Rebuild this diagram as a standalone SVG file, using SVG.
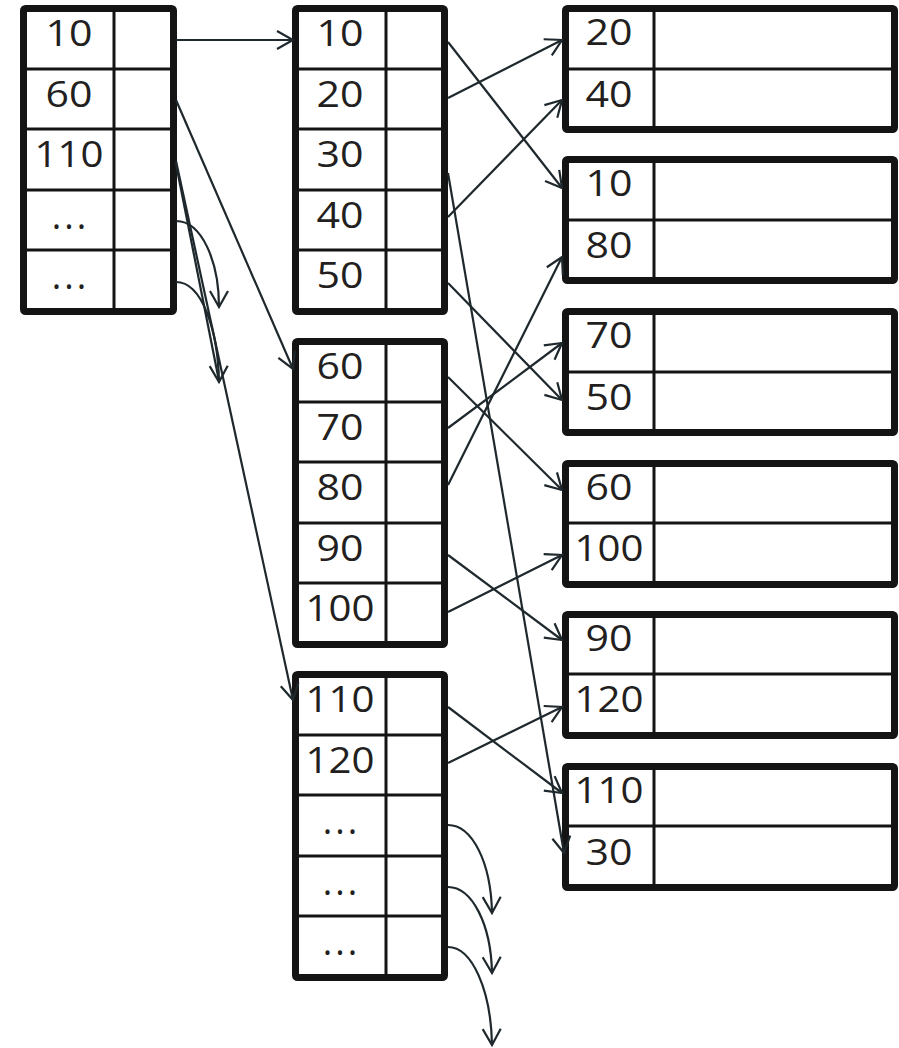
<svg xmlns="http://www.w3.org/2000/svg" width="899" height="1048" viewBox="0 0 899 1048">
<defs>
<style>
.box{fill:#fff;stroke:#141414;stroke-width:7;stroke-linejoin:round}
.in{stroke:#141414;stroke-width:3;fill:none}
.t{font-family:"Open Sans","DejaVu Sans",sans-serif;font-size:36px;fill:#231f20;text-anchor:middle}
.d{letter-spacing:3px}
.c{fill:none;stroke:#1e282d;stroke-width:2.2}
</style>
<marker id="a" markerUnits="userSpaceOnUse" markerWidth="20" markerHeight="20" refX="16" refY="10" orient="auto" overflow="visible">
<path d="M0,1 L16,10 L0,19" fill="none" stroke="#1e282d" stroke-width="2.2"/>
</marker>
</defs>
<rect width="899" height="1048" fill="#fff"/>

<g id="root">
<rect class="box" x="23.5" y="8.5" width="150" height="303" rx="2"/>
<path class="in" d="M114,12V308 M27,69H170 M27,129H170 M27,190H170 M27,250H170"/>
<text class="t" x="69" y="46" textLength="47" lengthAdjust="spacingAndGlyphs">10</text>
<text class="t" x="69" y="107" textLength="47" lengthAdjust="spacingAndGlyphs">60</text>
<text class="t" x="69" y="167" textLength="69" lengthAdjust="spacingAndGlyphs">110</text>
<text class="t d" x="70.5" y="229">...</text>
<text class="t d" x="70.5" y="289">...</text>
</g>

<g id="mid1">
<rect class="box" x="295.5" y="8.5" width="149" height="303" rx="2"/>
<path class="in" d="M386,12V308 M299,69H441 M299,129H441 M299,190H441 M299,250H441"/>
<text class="t" x="340" y="46" textLength="47" lengthAdjust="spacingAndGlyphs">10</text>
<text class="t" x="340" y="107" textLength="47" lengthAdjust="spacingAndGlyphs">20</text>
<text class="t" x="340" y="167" textLength="47" lengthAdjust="spacingAndGlyphs">30</text>
<text class="t" x="340" y="228" textLength="47" lengthAdjust="spacingAndGlyphs">40</text>
<text class="t" x="340" y="288" textLength="47" lengthAdjust="spacingAndGlyphs">50</text>
</g>

<g id="mid2">
<rect class="box" x="295.5" y="341.5" width="149" height="303" rx="2"/>
<path class="in" d="M386,345V641 M299,402H441 M299,462H441 M299,523H441 M299,583H441"/>
<text class="t" x="340" y="379" textLength="47" lengthAdjust="spacingAndGlyphs">60</text>
<text class="t" x="340" y="440" textLength="47" lengthAdjust="spacingAndGlyphs">70</text>
<text class="t" x="340" y="500" textLength="47" lengthAdjust="spacingAndGlyphs">80</text>
<text class="t" x="340" y="561" textLength="47" lengthAdjust="spacingAndGlyphs">90</text>
<text class="t" x="340" y="621" textLength="69" lengthAdjust="spacingAndGlyphs">100</text>
</g>

<g id="mid3">
<rect class="box" x="295.5" y="674.5" width="149" height="303" rx="2"/>
<path class="in" d="M386,678V974 M299,735H441 M299,795H441 M299,856H441 M299,916H441"/>
<text class="t" x="340" y="712" textLength="69" lengthAdjust="spacingAndGlyphs">110</text>
<text class="t" x="340" y="773" textLength="69" lengthAdjust="spacingAndGlyphs">120</text>
<text class="t d" x="341.5" y="834">...</text>
<text class="t d" x="341.5" y="895">...</text>
<text class="t d" x="341.5" y="955">...</text>
</g>

<g id="leaf1">
<rect class="box" x="565.5" y="8.5" width="329" height="121" rx="2"/>
<path class="in" d="M654,12V126 M569,69H891"/>
<text class="t" x="609" y="45" textLength="47" lengthAdjust="spacingAndGlyphs">20</text>
<text class="t" x="609" y="107" textLength="47" lengthAdjust="spacingAndGlyphs">40</text>
</g>
<g id="leaf2">
<rect class="box" x="565.5" y="159.5" width="329" height="121" rx="2"/>
<path class="in" d="M654,163V277 M569,220H891"/>
<text class="t" x="609" y="196" textLength="47" lengthAdjust="spacingAndGlyphs">10</text>
<text class="t" x="609" y="258" textLength="47" lengthAdjust="spacingAndGlyphs">80</text>
</g>
<g id="leaf3">
<rect class="box" x="565.5" y="311.5" width="329" height="121" rx="2"/>
<path class="in" d="M654,315V429 M569,372H891"/>
<text class="t" x="609" y="348" textLength="47" lengthAdjust="spacingAndGlyphs">70</text>
<text class="t" x="609" y="410" textLength="47" lengthAdjust="spacingAndGlyphs">50</text>
</g>
<g id="leaf4">
<rect class="box" x="565.5" y="463.5" width="329" height="121" rx="2"/>
<path class="in" d="M654,467V581 M569,523H891"/>
<text class="t" x="609" y="500" textLength="47" lengthAdjust="spacingAndGlyphs">60</text>
<text class="t" x="609" y="561" textLength="69" lengthAdjust="spacingAndGlyphs">100</text>
</g>
<g id="leaf5">
<rect class="box" x="565.5" y="614.5" width="329" height="121" rx="2"/>
<path class="in" d="M654,618V732 M569,674H891"/>
<text class="t" x="609" y="651" textLength="47" lengthAdjust="spacingAndGlyphs">90</text>
<text class="t" x="609" y="712" textLength="69" lengthAdjust="spacingAndGlyphs">120</text>
</g>
<g id="leaf6">
<rect class="box" x="565.5" y="766.5" width="329" height="121" rx="2"/>
<path class="in" d="M654,770V884 M569,826H891"/>
<text class="t" x="609" y="803" textLength="69" lengthAdjust="spacingAndGlyphs">110</text>
<text class="t" x="609" y="865" textLength="47" lengthAdjust="spacingAndGlyphs">30</text>
</g>

<g id="connectors">
<path class="c" marker-end="url(#a)" d="M176,40 L293,40"/>
<path class="c" marker-end="url(#a)" d="M176,100 L293,369"/>
<path class="c" marker-end="url(#a)" d="M176,161 L293,700"/>
<path class="c" d="M176,164 L219,381"/>
<path class="c" marker-end="url(#a)" d="M176,221 C202,221 219,262 219,307"/>
<path class="c" marker-end="url(#a)" d="M176,282 C202,282 218,330 219,382"/>
<path class="c" marker-end="url(#a)" d="M448,42 L562,188"/>
<path class="c" marker-end="url(#a)" d="M448,98 L562,40"/>
<path class="c" marker-end="url(#a)" d="M448,173 L564,853"/>
<path class="c" marker-end="url(#a)" d="M448,217 L562,100"/>
<path class="c" marker-end="url(#a)" d="M448,283 L562,400"/>
<path class="c" marker-end="url(#a)" d="M448,377 L562,490"/>
<path class="c" marker-end="url(#a)" d="M448,428 L562,343"/>
<path class="c" marker-end="url(#a)" d="M448,485 L562,257"/>
<path class="c" marker-end="url(#a)" d="M448,555 L562,640"/>
<path class="c" marker-end="url(#a)" d="M448,612 L562,555"/>
<path class="c" marker-end="url(#a)" d="M448,707 L562,793"/>
<path class="c" marker-end="url(#a)" d="M448,763 L562,707"/>
<path class="c" marker-end="url(#a)" d="M448,825 C472,825 491,862 492,913"/>
<path class="c" marker-end="url(#a)" d="M448,887 C472,887 491,924 492,973"/>
<path class="c" marker-end="url(#a)" d="M448,947 C472,947 491,990 492,1045"/>
</g>
</svg>
